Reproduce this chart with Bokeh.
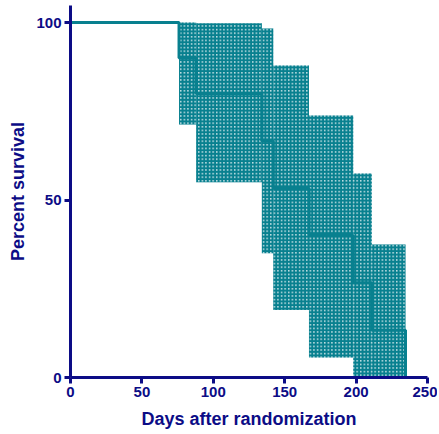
from bokeh.plotting import figure
from bokeh.models import Range1d, FixedTicker
from bokeh.embed import file_html
from bokeh.resources import INLINE

# Kaplan-Meier data
event_days = [76, 88, 134, 142, 167, 198, 211, 234.6]
survival = [90, 80, 66.7, 53.3, 40, 26.7, 13.3, 0]
ci_upper = [100, 99.8, 98.3, 87.9, 73.8, 57.5, 37.5]
ci_lower = [71.3, 55, 35, 19, 5.6, 0, 0]
x_ticks = [0, 50, 100, 150, 200, 250]
y_ticks = [0, 50, 100]

TEAL = "#08808f"
NAVY = "#0c0c86"
FONT = "Liberation Sans"

p = figure(width=437, height=434, output_backend="svg", toolbar_location=None,
           x_range=Range1d(0, 250), y_range=Range1d(0, 104.8),
           min_border_left=70, min_border_right=10, min_border_top=5, min_border_bottom=57)
p.outline_line_color = None
p.grid.visible = False
p.background_fill_color = "white"
p.border_fill_color = "white"

# confidence band (hatched)
p.quad(left=event_days[:-1], right=event_days[1:], top=ci_upper, bottom=ci_lower,
       fill_color=TEAL, fill_alpha=0.25, line_color=None,
       hatch_pattern="cross", hatch_color=TEAL, hatch_scale=3.6, hatch_weight=2.6)

# survival curve
p.step(x=[0] + event_days, y=[100] + survival, mode="after", line_color=TEAL, line_width=3)

p.xaxis.ticker = FixedTicker(ticks=x_ticks)
p.yaxis.ticker = FixedTicker(ticks=y_ticks)
p.xaxis.axis_label = "Days after randomization"
p.yaxis.axis_label = "Percent survival"
for ax in (p.xaxis, p.yaxis):
    ax.axis_line_color = NAVY
    ax.axis_line_width = 3
    ax.major_tick_line_color = NAVY
    ax.major_tick_line_width = 3
    ax.major_tick_out = 6
    ax.major_tick_in = 0
    ax.minor_tick_line_color = None
    ax.major_label_text_color = NAVY
    ax.major_label_text_font = FONT
    ax.major_label_text_font_style = "bold"
    ax.major_label_text_font_size = "15px"
    ax.axis_label_text_color = NAVY
    ax.axis_label_text_font = FONT
    ax.axis_label_text_font_style = "bold"
    ax.axis_label_text_font_size = "18px"
p.xaxis.major_label_standoff = 3
p.yaxis.major_label_standoff = 3
p.xaxis.axis_label_standoff = 9
p.yaxis.axis_label_standoff = 5

open("out.html", "w").write(file_html(p, INLINE))
